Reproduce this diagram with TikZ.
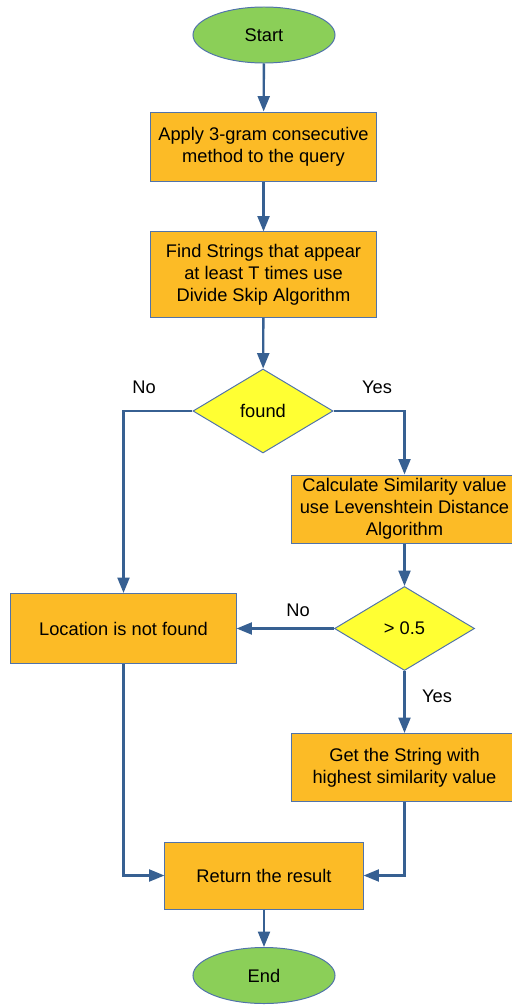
\documentclass[tikz,border=0pt]{standalone}
\usepackage{fontspec}
\setmainfont{Liberation Sans}
\usepackage{xcolor}
\usepackage{tikz}
\usetikzlibrary{shapes.geometric, arrows.meta, positioning}
\definecolor{flowgreen}{RGB}{139,207,88}
\definecolor{floworange}{RGB}{252,187,38}
\definecolor{flowyellow}{RGB}{255,255,51}
\definecolor{flowblue}{RGB}{55,96,146}
\definecolor{flowedge}{RGB}{80,115,170}
\tikzset{
  terminal/.style={ellipse, draw=flowedge, fill=flowgreen, line width=0.7pt,
    minimum width=3.55cm, minimum height=1.4cm, inner sep=0pt},
  process/.style={rectangle, draw=flowedge, fill=floworange, line width=0.7pt,
    minimum width=5.625cm, align=center, inner sep=0pt},
  decision/.style={diamond, draw=flowedge, fill=flowyellow, line width=0.7pt,
    minimum width=3.5cm, minimum height=2.1cm, inner sep=0pt},
  arrow/.style={-{Triangle[length=11pt, width=8.5pt]}, line width=1.7pt, color=flowblue},
  label/.style={inner sep=0pt}
}

\begin{document}
\begin{tikzpicture}[x=0.025cm, y=-0.025cm, every node/.style={font=\fontsize{13}{15.5}\selectfont}]
    \useasboundingbox (0,0) rectangle (512,1006);

    % Start and first steps
    \node[terminal] (start) at (264,35) {Start};
    \node[process, minimum height=1.725cm] (apply) at (263.5,146.5) {Apply 3-gram consecutive\\method to the query};
    \node[process, minimum height=2.125cm] (find) at (263.5,274.5) {Find Strings that appear\\at least T times use\\Divide Skip Algorithm};

    % Decisions
    \node[decision] (found) at (263,411) {found};
    \node[process, minimum height=1.7cm] (calc) at (404.5,509) {Calculate Similarity value\\use Levenshtein Distance\\Algorithm};
    \node[decision] (gt) at (404.5,628.5) {> 0.5};
    \node[process, minimum height=1.75cm] (notfound) at (123.5,628.5) {Location is not found};
    \node[process, minimum height=1.7cm] (get) at (404.5,767.5) {Get the String with\\highest similarity value};

    % End
    \node[process, minimum width=4.95cm, minimum height=1.675cm] (result) at (264,875.5) {Return the result};
    \node[terminal] (end) at (264,975.5) {End};

    % Connectors
    \draw[arrow] (start) -- (apply);
    \draw[arrow] (apply) -- (find);
    \draw[arrow] (find) -- (found);
    \draw[arrow] (found.west) -| (notfound.north);
    \draw[arrow] (found.east) -| (calc.north);
    \draw[arrow] (calc) -- (gt);
    \draw[arrow] (gt.west) -- (notfound.east);
    \draw[arrow] (gt.south) -- (get.north);
    \draw[arrow] (get.south) |- (result.east);
    \draw[arrow] (notfound.south) |- (result.west);
    \draw[arrow] (result) -- (end);

    % Labels
    \node[label] (no1) at (144,387) {No};
    \node[label] (yes1) at (377,387) {Yes};
    \node[label] (no2) at (298,610) {No};
    \node[label] (yes2) at (437,696) {Yes};
\end{tikzpicture}
\end{document}
